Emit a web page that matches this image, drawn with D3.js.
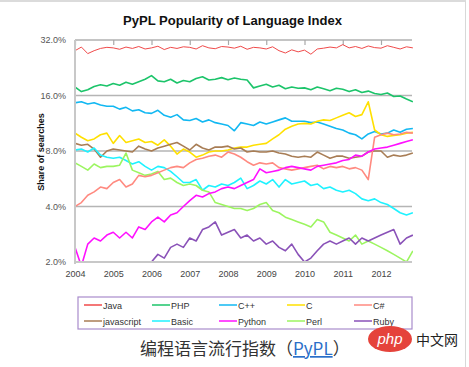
<!DOCTYPE html>
<html><head><meta charset="utf-8">
<script src="https://cdn.jsdelivr.net/npm/d3@7/dist/d3.min.js"></script>
<style>body{margin:0;background:#fff}svg{display:block}</style>
</head><body><svg id="c" width="469" height="367"></svg>
<script>
// ---------- data ----------
const yearLabels = ["2004","2005","2006","2007","2008","2009","2010","2011","2012"];
const yTicks = [2, 4, 8, 16, 32];
const yTickLabels = ["2.0%","4.0%","8.0%","16.0%","32.0%"];
const seriesNames = ["Java","PHP","C++","C","C#","javascript","Basic","Python","Perl","Ruby"];
const seriesColors = ["#f04a4a","#1cc46a","#12b8f2","#ffe000","#ff8a80","#a87d55","#1ff2ff","#ff10ff","#9cf560","#8a52b8"];
// bimonthly samples, Jan 2004 .. Nov 2012 (share of searches, %)
const java = [28.0,29.3,27.0,28.0,28.8,29.2, 29.0,28.5,29.3,28.8,29.5,28.6, 29.0,29.6,28.4,29.2,28.8,29.4,
  29.2,28.6,29.8,29.0,28.7,29.5, 29.3,28.9,29.6,28.5,29.2,29.0, 28.6,29.4,28.0,27.2,28.3,27.6,
  28.2,26.8,28.6,28.9,29.3,29.0, 30.2,29.0,29.5,28.8,29.7,29.1, 28.9,29.8,29.2,28.6,29.4,29.0];
const php = [17.8,16.8,17.2,17.9,18.3,18.0, 18.6,18.2,18.9,18.4,19.0,19.6, 20.5,19.2,19.0,19.6,18.7,19.3,
  19.0,19.8,20.2,19.4,19.6,20.0, 19.5,19.9,19.6,19.4,17.6,18.0, 18.4,17.8,18.2,17.4,17.8,17.5,
  17.6,17.2,17.8,17.4,17.0,17.5, 17.3,16.8,17.2,16.6,16.9,16.4, 16.2,16.5,15.8,15.9,15.3,14.8];
const cpp = [14.6,14.8,14.4,14.6,14.2,14.0, 14.0,13.5,13.8,13.2,13.4,12.9, 12.8,13.3,12.5,12.2,12.6,11.8,
  11.7,12.0,11.5,11.8,11.4,11.2, 11.0,10.3,11.4,11.2,11.0,11.5, 11.2,11.5,11.8,12.1,11.6,11.6,
  11.6,11.4,11.5,11.2,10.9,10.6, 10.4,10.0,9.8,9.3,9.9,10.2, 9.9,10.0,10.4,10.1,10.5,10.6];
const cLang = [10.0,9.5,9.1,9.3,9.8,10.0, 8.8,9.7,8.9,9.1,9.3,8.9, 9.0,8.6,9.2,8.5,7.7,8.2,
  7.9,7.4,7.6,7.9,8.0,8.0, 8.1,8.3,8.4,8.4,8.6,8.7, 8.8,9.3,9.8,10.5,10.9,11.2,
  11.3,11.2,11.6,11.8,11.7,12.1, 12.5,12.9,12.3,12.6,14.8,10.4, 9.8,9.6,9.7,9.8,10.0,10.1];
const csharp = [4.0,4.2,4.6,4.8,5.1,5.0, 5.4,5.6,5.1,5.3,5.9,5.8, 5.9,6.1,6.3,6.5,6.6,6.5,
  6.9,7.2,7.3,7.5,7.6,7.4, 7.9,7.7,7.4,7.0,6.7,6.9, 6.8,6.9,6.5,6.4,6.3,6.4,
  6.5,6.6,6.7,6.4,6.6,6.5, 6.6,6.4,6.5,6.3,5.6,9.5, 9.8,10.0,9.8,9.9,10.1,10.0];
const javascript = [8.8,8.6,8.7,8.2,7.4,8.0, 8.2,8.1,8.0,7.9,8.5,8.2, 8.0,8.3,8.5,8.7,8.9,8.5,
  8.1,8.7,8.3,8.1,8.4,8.4, 8.5,8.2,8.3,7.9,8.0,7.9, 7.9,8.0,7.8,7.7,7.5,7.4,
  7.5,7.4,7.9,7.6,7.3,7.5, 7.5,7.3,7.4,7.5,7.9,8.0, 8.0,7.4,7.6,7.5,7.6,7.8];
const basic = [8.1,8.2,7.9,8.3,7.6,7.4, 7.3,7.4,7.1,6.8,7.0,6.6, 6.3,6.6,6.5,6.2,5.8,5.4,
  5.4,5.6,4.9,5.2,5.1,5.3, 5.2,5.4,5.7,5.0,5.2,5.5, 5.3,5.6,5.1,5.6,5.3,5.4,
  5.5,5.2,5.3,5.0,5.1,4.9, 4.8,4.9,4.7,4.4,4.3,4.4, 4.2,4.1,3.9,3.7,3.6,3.7];
const python = [2.4,1.9,2.5,2.7,2.6,2.8, 2.9,2.7,2.9,2.7,3.1,3.0, 3.3,3.5,3.3,3.6,3.7,4.0,
  4.3,4.6,4.5,4.7,4.8,5.0, 5.1,5.0,5.2,5.4,5.6,6.4, 6.1,6.2,6.3,6.5,6.6,6.5,
  6.4,6.3,6.6,6.7,6.8,6.9, 7.1,7.2,7.6,7.5,7.9,8.2, 8.3,8.4,8.6,8.8,9.0,9.2];
const perl = [6.9,6.6,6.3,6.8,6.5,6.6, 6.6,6.7,7.8,6.3,6.1,5.9, 6.0,6.2,5.6,5.7,5.4,5.2,
  5.3,5.2,4.9,4.8,4.2,4.1, 4.0,3.9,3.9,3.8,3.9,4.1, 4.2,3.8,3.7,3.5,3.4,3.3,
  3.2,3.1,3.4,3.3,2.9,2.8, 2.7,2.6,2.8,2.5,2.6,2.5, 2.4,2.3,2.2,2.1,2.0,2.3];
const ruby = [null,null,null,null,null,null, null,null,null,null,null,1.9, 2.0,2.2,2.1,2.4,2.5,2.4,
  2.7,2.6,3.0,3.1,3.3,2.8, 2.9,3.0,2.7,2.8,2.6,2.7, 2.5,2.6,2.4,2.3,2.5,2.2,
  2.0,2.1,2.3,2.5,2.6,2.5, 2.6,2.7,2.5,2.7,2.6,2.7, 2.8,2.9,3.0,2.5,2.7,2.8];
const seriesValues = [java, php, cpp, cLang, csharp, javascript, basic, python, perl, ruby];
const sampleTimes = java.map((_, i) => 2004 + i / 6);

// ---------- drawing ----------
const svg = d3.select("#c");
const L = 75, R = 412, T = 40, B = 262;
const x = d3.scaleLinear().domain([2004, 2013]).range([L, L + 9 * 38.25]);
const y = d3.scaleLog().base(2).domain([2, 32]).range([B, T]);
const font = "'Liberation Sans', Arial, sans-serif";

// frame of screenshot
svg.append("line").attr("x1",0).attr("x2",466).attr("y1",1).attr("y2",1).attr("stroke","#cfcfcf").attr("stroke-width",1.5);
svg.append("line").attr("x1",465.5).attr("x2",465.5).attr("y1",1).attr("y2",367).attr("stroke","#d8d8d8").attr("stroke-width",1);

// title
svg.append("text").attr("x",232.5).attr("y",25).attr("text-anchor","middle")
  .attr("font-family",font).attr("font-weight","bold").attr("font-size",13)
  .attr("textLength",219).attr("lengthAdjust","spacingAndGlyphs").attr("fill","#111")
  .text("PyPL Popularity of Language Index");

// gridlines
svg.append("g").selectAll("line").data([4, 8, 16]).join("line")
  .attr("x1", L).attr("x2", R).attr("y1", d => y(d)).attr("y2", d => y(d))
  .attr("stroke", "#b5b5b5").attr("stroke-width", 1.5);

// top axis line with ticks (at 32%)
const topAxis = svg.append("g").attr("transform", `translate(0,${T})`)
  .call(d3.axisBottom(x).tickValues(yearLabels.map(Number)).tickSize(5).tickFormat(""));
topAxis.select(".domain").attr("d", `M${L},0H${R}`).attr("stroke","#c4c4c4").attr("stroke-width",2);
topAxis.selectAll(".tick line").attr("stroke","#a8a8a8").attr("stroke-width",1.2);

// bottom axis (at 2%) with year labels
const botAxis = svg.append("g").attr("transform", `translate(0,${B})`)
  .call(d3.axisBottom(x).tickValues(yearLabels.map(Number)).tickSize(0).tickPadding(9)
    .tickFormat((d, i) => yearLabels[i]));
botAxis.select(".domain").attr("d", `M${L},0H${R}`).attr("stroke","#c8c8c8").attr("stroke-width",2);
botAxis.selectAll("text").attr("font-family",font).attr("font-size",9).attr("fill","#444");

// left axis
const leftAxis = svg.append("g").attr("transform", `translate(${L},0)`)
  .call(d3.axisLeft(y).tickValues(yTicks).tickSize(0).tickPadding(9)
    .tickFormat((d, i) => yTickLabels[i]));
leftAxis.select(".domain").attr("d", `M0,${T}V${B + 2}`).attr("stroke","#c8c8c8").attr("stroke-width",2);
leftAxis.selectAll("text").attr("font-family",font).attr("font-size",9).attr("fill","#555");

// y title
svg.append("text").attr("transform","translate(44,152) rotate(-90)").attr("text-anchor","middle")
  .attr("font-family",font).attr("font-weight","bold").attr("font-size",9).attr("fill","#111")
  .text("Share of searches");

// clip
svg.append("clipPath").attr("id","clip").append("rect")
  .attr("x", L + 1).attr("y", T).attr("width", R - L).attr("height", B - T - 1);

const line = d3.line()
  .defined(d => d[1] != null)
  .x(d => x(d[0])).y(d => y(d[1]));

const drawOrder = [0,1,2,3,5,6,8,9,4,7];
svg.append("g").attr("clip-path","url(#clip)").selectAll("path")
  .data(drawOrder).join("path")
  .attr("d", k => line(seriesValues[k].map((v, i) => [sampleTimes[i], v])))
  .attr("fill","none")
  .attr("stroke", k => seriesColors[k])
  .attr("stroke-width", k => k === 0 ? 1 : 1.6)
  .attr("stroke-linejoin","round");

// legend
svg.append("rect").attr("x",78).attr("y",297).attr("width",334).attr("height",32)
  .attr("fill","#fff").attr("stroke","#a98ccc").attr("stroke-width",1.2);
const colX = [84, 152, 219, 287, 354];
const rowY = [305, 321];
const leg = svg.append("g").selectAll("g").data(seriesNames).join("g")
  .attr("transform", (d, i) => `translate(${colX[i % 5]},${rowY[Math.floor(i / 5)]})`);
leg.append("line").attr("x1",0).attr("x2",18).attr("y1",0).attr("y2",0)
  .attr("stroke", (d, i) => seriesColors[i]).attr("stroke-width",1.5);
leg.append("text").attr("x",19).attr("y",3.5).attr("font-family",font).attr("font-size",9)
  .attr("fill","#333").text(d => d);

// caption
const cap = svg.append("text").attr("x",140).attr("y",355)
  .attr("font-family","'Noto Sans CJK SC', sans-serif").attr("font-size",17).attr("fill","#333");
cap.append("tspan").text("编程语言流行指数（");
cap.append("tspan").attr("fill","#2a6fc9").attr("text-decoration","underline").text("PyPL");
cap.append("tspan").text("）");

// watermark
svg.append("ellipse").attr("cx",390).attr("cy",339).attr("rx",22).attr("ry",13).attr("fill","#e5433b");
svg.append("text").attr("x",390).attr("y",344).attr("text-anchor","middle")
  .attr("font-family",font).attr("font-style","italic").attr("font-size",15).attr("fill","#fff").text("php");
svg.append("text").attr("x",416).attr("y",345)
  .attr("font-family","'Noto Sans CJK SC', sans-serif").attr("font-size",14).attr("fill","#222").text("中文网");
</script></body></html>
